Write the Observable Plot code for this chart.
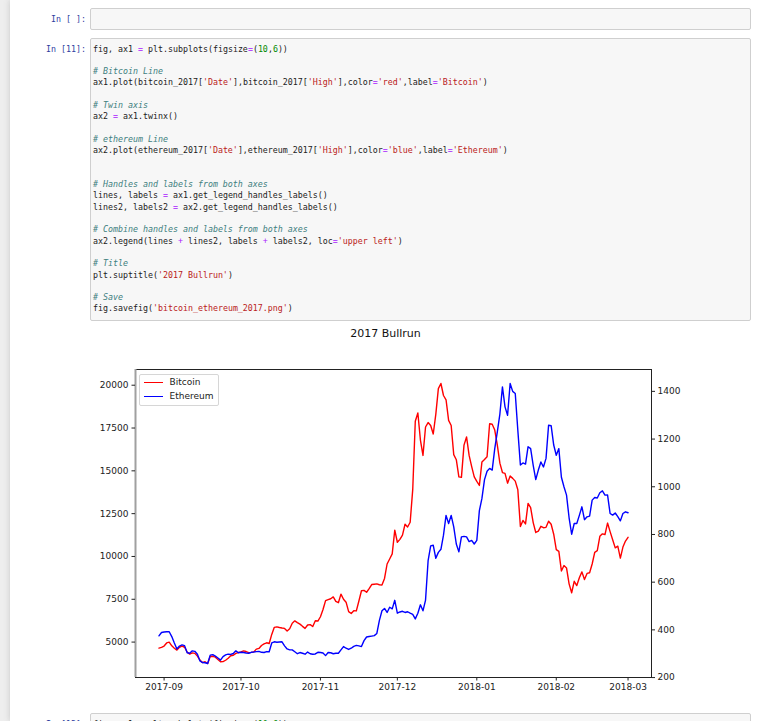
<!DOCTYPE html>
<html>
<head>
<meta charset="utf-8">
<script src="https://cdn.jsdelivr.net/npm/d3@7"></script>
<script src="https://cdn.jsdelivr.net/npm/@observablehq/plot@0.6"></script>
<style>
  html, body { margin: 0; padding: 0; }
  body { width: 768px; height: 721px; overflow: hidden; position: relative; background: #eeeeee; font-family: "DejaVu Sans", sans-serif; }
  #nb { position: absolute; left: 10px; top: 0; width: 758px; height: 721px; background: #fff; box-shadow: 0 0 6px rgba(87,87,87,0.25); }
  .prompt { position: absolute; font-family: "DejaVu Sans Mono", monospace; font-size: 8.3px; color: #303F9F; text-align: right; width: 80px; left: 6px; line-height: 11.3px; white-space: nowrap; }
  .box { position: absolute; left: 90px; width: 659px; background: #f7f7f7; border: 1px solid #cfcfcf; border-radius: 2px; }
  .code { position: absolute; left: 93px; margin: 0; font-family: "DejaVu Sans Mono", monospace; font-size: 8.3px; line-height: 11.3px; color: #222; }
  .code div { height: 11.3px; white-space: pre; }
  .c { color: #408080; font-style: italic; }
  .s { color: #BA2121; }
  .o { color: #AA22FF; }
  .m { color: #008800; }
  #title { position: absolute; left: 52px; width: 667px; top: 326px; text-align: center; font-size: 11px; line-height: 16px; color: #111; font-family: "DejaVu Sans", sans-serif; }
  #chart { position: absolute; left: 52px; top: 345px; }
  #legend { position: absolute; left: 139px; top: 373.5px; width: 78px; height: 30px; border: 1px solid #d6d6d6; border-radius: 2px; background: rgba(255,255,255,0.85); font-family: "DejaVu Sans", sans-serif; font-size: 9px; color: #222; }
  .li { position: absolute; left: 0; height: 12px; width: 78px; }
  .li span.sw { position: absolute; left: 3.5px; top: 6px; width: 19px; height: 0; border-top: 1.4px solid; }
  .li span.lb { position: absolute; left: 29.5px; top: 0; line-height: 12px; }
</style>
</head>
<body>
<div id="nb"></div>

<div class="prompt" style="top:13.5px">In&nbsp;[&nbsp;]:</div>
<div class="box" style="top:8px;height:20px"></div>

<div class="prompt" style="top:43.6px">In&nbsp;[11]:</div>
<div class="box" style="top:38px;height:281px"></div>
<div class="code" style="top:43.6px">
<div>fig, ax1 <span class="o">=</span> plt.subplots(figsize<span class="o">=</span>(<span class="m">10</span>,<span class="m">6</span>))</div>
<div></div>
<div><span class="c"># Bitcoin Line</span></div>
<div>ax1.plot(bitcoin_2017[<span class="s">'Date'</span>],bitcoin_2017[<span class="s">'High'</span>],color<span class="o">=</span><span class="s">'red'</span>,label<span class="o">=</span><span class="s">'Bitcoin'</span>)</div>
<div></div>
<div><span class="c"># Twin axis</span></div>
<div>ax2 <span class="o">=</span> ax1.twinx()</div>
<div></div>
<div><span class="c"># ethereum Line</span></div>
<div>ax2.plot(ethereum_2017[<span class="s">'Date'</span>],ethereum_2017[<span class="s">'High'</span>],color<span class="o">=</span><span class="s">'blue'</span>,label<span class="o">=</span><span class="s">'Ethereum'</span>)</div>
<div></div>
<div></div>
<div><span class="c"># Handles and labels from both axes</span></div>
<div>lines, labels <span class="o">=</span> ax1.get_legend_handles_labels()</div>
<div>lines2, labels2 <span class="o">=</span> ax2.get_legend_handles_labels()</div>
<div></div>
<div><span class="c"># Combine handles and labels from both axes</span></div>
<div>ax2.legend(lines <span class="o">+</span> lines2, labels <span class="o">+</span> labels2, loc<span class="o">=</span><span class="s">'upper left'</span>)</div>
<div></div>
<div><span class="c"># Title</span></div>
<div>plt.suptitle(<span class="s">'2017 Bullrun'</span>)</div>
<div></div>
<div><span class="c"># Save</span></div>
<div>fig.savefig(<span class="s">'bitcoin_ethereum_2017.png'</span>)</div>
</div>

<div id="title">2017 Bullrun</div>
<div id="chart"></div>
<div id="legend"></div>

<div class="prompt" style="top:718.5px">In&nbsp;[12]:</div>
<div class="box" style="top:713px;height:40px"></div>
<div class="code" style="top:718.5px"><div>fig, ax1 <span class="o">=</span> plt.subplots(figsize<span class="o">=</span>(<span class="m">10</span>,<span class="m">6</span>))</div></div>

<script>
// ---- data (daily "High", first date below) ----
const startDate = "2017-08-30";

const btcHigh = [
  4650,4690,4770,4950,5000,4780,4640,4530,4700,4760,
  4700,4420,4300,4370,4340,4180,3950,3800,3850,3750,
  4160,4170,4120,3980,3850,3860,3940,4060,4200,4230,
  4340,4390,4430,4490,4450,4380,4400,4430,4590,4630,
  4800,4900,4960,4920,5450,5860,5890,5850,5820,5800,
  5650,5780,6100,6240,6140,6050,5920,5800,6000,6020,
  5910,6250,6230,6480,6900,7420,7480,7530,7640,7380,
  7300,7800,7500,7330,6780,6670,6830,6820,7400,8000,
  8020,7910,8120,8360,8380,8400,8350,8330,8720,9560,
  9850,10150,11540,10830,11000,11250,11880,11720,12000,13900,
  17900,18380,16800,15900,17560,17820,17650,17150,18300,19800,
  20100,19400,19150,17950,17650,15950,15650,14650,14620,16500,
  16980,15900,15250,14650,14380,14150,15520,15660,15820,17750,
  17720,17380,16500,15450,14900,14850,14280,14700,14560,14400,
  13900,11750,12100,11900,13100,12850,11980,11400,11480,11760,
  11680,11700,12060,11880,11300,10400,10300,9150,9470,9330,
  8400,7880,8550,8300,8760,9100,8650,9010,9050,9560,
  10240,10340,11180,11320,11280,11950,11450,10980,10500,10600,
  9900,10550,10900,11120
];

const ethHigh = [
  375,389,391,392,392,372,345,320,332,337,
  334,304,302,312,310,298,270,263,262,259,
  294,296,290,282,273,288,295,298,297,301,
  312,304,306,305,303,302,306,307,309,310,
  306,305,309,308,345,350,348,349,350,333,
  320,316,316,308,300,305,302,298,307,300,
  298,299,306,305,303,292,305,304,300,302,
  302,316,330,323,318,323,331,335,333,330,
  355,370,372,374,376,385,440,480,490,473,
  495,488,524,470,475,478,473,476,470,465,
  446,470,505,480,525,690,752,755,700,725,
  738,797,880,846,880,832,760,727,790,792,
  790,770,775,760,775,900,951,1030,1065,1077,
  1070,1160,1230,1305,1419,1335,1300,1433,1400,1391,
  1237,1091,1100,1095,1168,1160,1090,1030,1070,1104,
  1083,1119,1258,1256,1175,1132,1160,1040,1000,965,
  870,801,846,846,880,916,862,874,877,944,
  955,953,975,983,965,966,888,881,890,875,
  857,888,895,891
];

const seriesNames = ["Bitcoin", "Ethereum"];
const seriesColors = ["red", "blue"];
const xTickLabels = ["2017-09","2017-10","2017-11","2017-12","2018-01","2018-02","2018-03"];
const btcTicks = [5000, 7500, 10000, 12500, 15000, 17500, 20000];
const ethTicks = [200, 400, 600, 800, 1000, 1200, 1400];

// ---- build table ----
const t0 = new Date(startDate + "T00:00:00Z");
const rows = btcHigh.map((v, i) => ({
  date: d3.utcDay.offset(t0, i),
  btc: v,
  eth: ethHigh[i]
}));

function padded(lo, hi) { const p = (hi - lo) * 0.05; return [lo - p, hi + p]; }
const xExt = d3.extent(rows, d => +d.date);
const xPad = padded(xExt[0], xExt[1]);
const xDomain = [new Date(xPad[0]), new Date(xPad[1])];
const btcDomain = padded(d3.min(btcHigh), d3.max(btcHigh));
const ethDomain = padded(d3.min(ethHigh), d3.max(ethHigh));
const ethToBtc = d3.scaleLinear().domain(ethDomain).range(btcDomain);
const parseMonth = d3.utcParse("%Y-%m");
const tickDates = xTickLabels.map(s => parseMonth(s));

const chart = Plot.plot({
  width: 667,
  height: 376,
  marginLeft: 83,
  marginRight: 68,
  marginTop: 24,
  marginBottom: 44,
  style: { fontFamily: "DejaVu Sans", fontSize: "9px", color: "#222", background: "white", overflow: "visible" },
  x: { type: "utc", domain: xDomain },
  y: { domain: btcDomain },
  marks: [
    Plot.line(rows, { x: "date", y: "btc", stroke: seriesColors[0], strokeWidth: 1.4 }),
    Plot.line(rows, { x: "date", y: d => ethToBtc(d.eth), stroke: seriesColors[1], strokeWidth: 1.4 }),
    Plot.frame({ stroke: "#222", strokeWidth: 1 }),
    Plot.ruleX([xDomain[0]], { stroke: "#a0a0a0", strokeWidth: 2 }),
    Plot.axisY(btcTicks, { anchor: "left", label: null, tickSize: 3.5, tickPadding: 3.5, tickFormat: d => String(d) }),
    Plot.axisY(ethTicks.map(v => ethToBtc(v)), { anchor: "right", label: null, tickSize: 3, tickPadding: 3, tickFormat: v => String(Math.round(ethToBtc.invert(v))) }),
    Plot.axisX(tickDates, { anchor: "bottom", label: null, tickSize: 3.5, tickPadding: 3, tickFormat: d3.utcFormat("%Y-%m") })
  ]
});
document.getElementById("chart").appendChild(chart);

// legend
const lg = document.getElementById("legend");
seriesNames.forEach((name, i) => {
  const row = document.createElement("div");
  row.className = "li";
  row.style.top = (1.5 + i * 14) + "px";
  const sw = document.createElement("span");
  sw.className = "sw";
  sw.style.borderTopColor = seriesColors[i];
  const lb = document.createElement("span");
  lb.className = "lb";
  lb.textContent = name;
  row.appendChild(sw);
  row.appendChild(lb);
  lg.appendChild(row);
});
</script>
</body>
</html>
